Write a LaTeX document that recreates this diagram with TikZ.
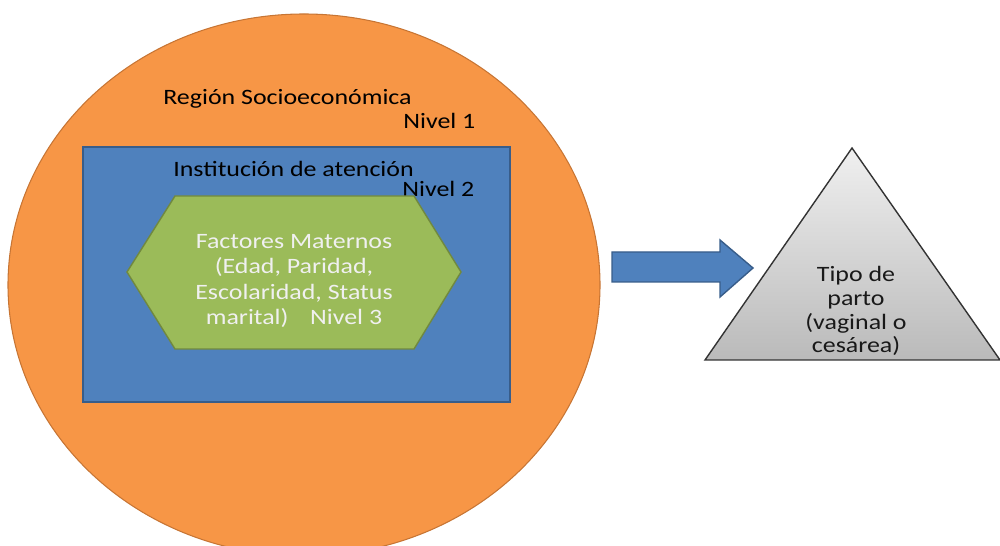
\documentclass[tikz,border=0pt]{standalone}
\usepackage{fontspec}
\setmainfont[FakeStretch=1.18]{Carlito}
\definecolor{regionfill}{HTML}{F79646}
\definecolor{regionline}{HTML}{C77534}
\definecolor{instfill}{HTML}{4F81BD}
\definecolor{instline}{HTML}{385D8A}
\definecolor{factfill}{HTML}{9BBB59}
\definecolor{factline}{HTML}{71893F}
\begin{document}
\begin{tikzpicture}[x=0.02cm,y=-0.02cm,
  txt/.style={font=\fontsize{12.5}{14.5}\selectfont,inner sep=0pt},
  lvl/.style={txt,anchor=base west,text=black}]
 \useasboundingbox (0,0) rectangle (1000,546);
 % nivel 1
 \draw[regionline,fill=regionfill,line width=0.6pt](304,285) ellipse [x radius=296,y radius=271];
 \node[lvl] (region) at (163,105) {Región Socioeconómica};
 \node[lvl] (nivuno) at (403,129) {Nivel 1};
 % nivel 2
 \draw[instline,fill=instfill,line width=0.8pt](83,147) rectangle (510,402);
 \node[lvl] (inst) at (173,177) {Institución de atención};
 \node[lvl] (nivdos) at (402,197) {Nivel 2};
 % nivel 3
 \draw[factline,fill=factfill,line width=0.8pt](127,272)--(175,196)--(414,196)--(461,272)--(414,349)--(175,349)--cycle;
 \node[txt,align=center,text=white!94!black] (factores) at (294,281)
  {Factores Maternos\\(Edad, Paridad,\\Escolaridad, Status\\marital)\hspace{9pt} Nivel 3};
 % flecha
 \draw[instline,fill=instfill,line width=0.8pt](612,252)--(720,252)--(720,240)--(753,268)--(720,297)--(720,282)--(612,282)--cycle;
 % resultado
 \draw[black!80,top color=black!6,bottom color=black!27,line width=0.8pt](852,148)--(1000,360)--(705,360)--cycle;
 \node[txt,align=center,text=black!90,font=\fontsize{12.5}{13.6}\selectfont] (parto) at (856,311)
  {Tipo de\\parto\\(vaginal o\\cesárea)};
\end{tikzpicture}
\end{document}
